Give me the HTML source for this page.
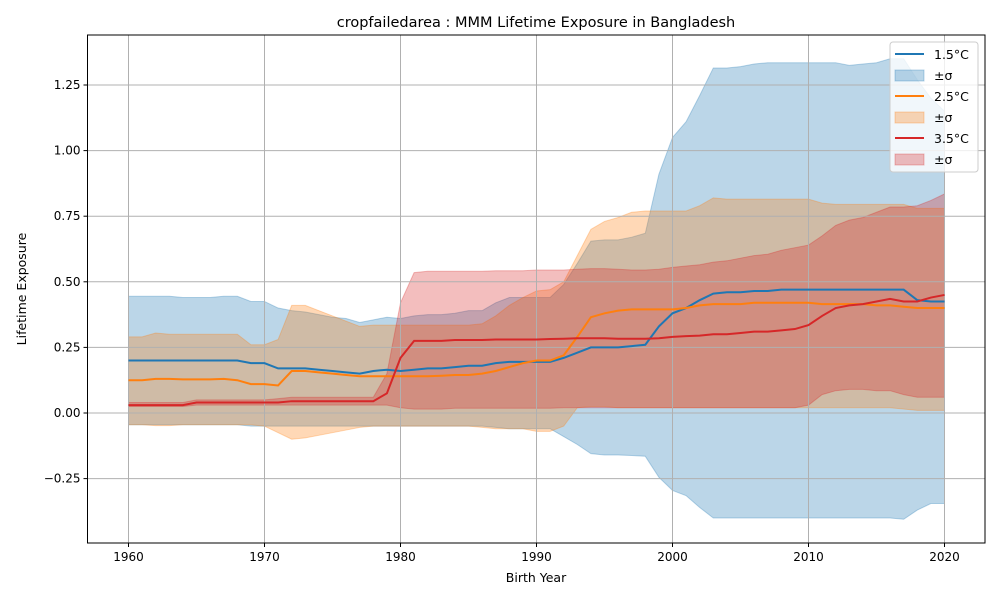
<!DOCTYPE html>
<html><head><meta charset="utf-8"><style>
body{margin:0;background:#fff;font-family:"Liberation Sans","DejaVu Sans",sans-serif}
svg text{font-family:"DejaVu Sans","Liberation Sans",sans-serif}
</style></head><body>
<svg id="c" width="1000" height="600" xmlns="http://www.w3.org/2000/svg"></svg>
<script>
const years=[];for(let y=1960;y<=2020;y++)years.push(y);
const m15=[0.20,0.20,0.20,0.20,0.20,0.20,0.20,0.20,0.20,0.19,0.19,0.17,0.17,0.17,0.165,0.16,0.155,0.15,0.16,0.165,0.16,0.165,0.17,0.17,0.175,0.18,0.18,0.19,0.195,0.195,0.195,0.195,0.21,0.23,0.25,0.25,0.25,0.255,0.26,0.33,0.38,0.40,0.43,0.455,0.46,0.46,0.465,0.465,0.47,0.47,0.47,0.47,0.47,0.47,0.47,0.47,0.47,0.47,0.43,0.425,0.425];
const u15=[0.445,0.445,0.445,0.445,0.44,0.44,0.44,0.445,0.445,0.425,0.425,0.40,0.39,0.385,0.375,0.365,0.36,0.345,0.355,0.365,0.36,0.37,0.375,0.375,0.38,0.39,0.39,0.42,0.44,0.44,0.44,0.44,0.49,0.57,0.655,0.66,0.66,0.67,0.685,0.91,1.05,1.11,1.21,1.315,1.315,1.32,1.33,1.335,1.335,1.335,1.335,1.335,1.335,1.325,1.33,1.335,1.35,1.35,1.27,1.2,1.15];
const l15=[-0.045,-0.045,-0.045,-0.045,-0.045,-0.045,-0.045,-0.045,-0.045,-0.05,-0.05,-0.05,-0.05,-0.05,-0.05,-0.05,-0.05,-0.05,-0.05,-0.05,-0.05,-0.05,-0.05,-0.05,-0.05,-0.05,-0.05,-0.055,-0.06,-0.06,-0.06,-0.06,-0.09,-0.12,-0.155,-0.16,-0.16,-0.162,-0.165,-0.245,-0.295,-0.315,-0.36,-0.4,-0.4,-0.4,-0.4,-0.4,-0.4,-0.4,-0.4,-0.4,-0.4,-0.4,-0.4,-0.4,-0.4,-0.405,-0.37,-0.345,-0.345];
const m25=[0.125,0.125,0.13,0.13,0.128,0.128,0.128,0.13,0.125,0.11,0.11,0.105,0.16,0.16,0.155,0.15,0.145,0.14,0.14,0.14,0.14,0.14,0.14,0.142,0.145,0.145,0.15,0.16,0.175,0.19,0.2,0.2,0.22,0.29,0.365,0.38,0.39,0.395,0.395,0.395,0.395,0.40,0.41,0.415,0.415,0.415,0.42,0.42,0.42,0.42,0.42,0.415,0.415,0.415,0.415,0.41,0.41,0.405,0.40,0.40,0.40];
const u25=[0.29,0.29,0.305,0.30,0.30,0.30,0.30,0.30,0.30,0.26,0.26,0.28,0.41,0.41,0.39,0.37,0.35,0.33,0.335,0.335,0.335,0.335,0.335,0.335,0.335,0.335,0.34,0.37,0.41,0.44,0.465,0.47,0.50,0.60,0.70,0.73,0.745,0.765,0.77,0.77,0.77,0.77,0.79,0.82,0.815,0.815,0.815,0.815,0.815,0.815,0.815,0.80,0.795,0.795,0.795,0.795,0.795,0.795,0.78,0.78,0.78];
const l25=[-0.045,-0.045,-0.048,-0.048,-0.045,-0.045,-0.045,-0.045,-0.045,-0.045,-0.05,-0.075,-0.10,-0.095,-0.085,-0.075,-0.065,-0.055,-0.05,-0.05,-0.05,-0.05,-0.05,-0.05,-0.05,-0.05,-0.055,-0.06,-0.06,-0.06,-0.07,-0.07,-0.05,0.02,0.025,0.025,0.02,0.02,0.02,0.02,0.02,0.02,0.02,0.02,0.02,0.02,0.02,0.02,0.02,0.02,0.02,0.02,0.02,0.02,0.02,0.02,0.02,0.015,0.01,0.01,0.01];
const m35=[0.03,0.03,0.03,0.03,0.03,0.04,0.04,0.04,0.04,0.04,0.04,0.04,0.045,0.045,0.045,0.045,0.045,0.045,0.045,0.075,0.21,0.275,0.275,0.275,0.278,0.278,0.278,0.28,0.28,0.28,0.28,0.282,0.283,0.285,0.285,0.285,0.283,0.283,0.283,0.285,0.29,0.293,0.295,0.30,0.30,0.305,0.31,0.31,0.315,0.32,0.335,0.37,0.40,0.41,0.415,0.425,0.435,0.425,0.425,0.44,0.45];
const u35=[0.04,0.04,0.04,0.04,0.04,0.05,0.05,0.05,0.05,0.05,0.05,0.055,0.06,0.06,0.06,0.06,0.06,0.06,0.06,0.15,0.42,0.535,0.54,0.54,0.54,0.54,0.54,0.542,0.542,0.542,0.545,0.545,0.545,0.548,0.55,0.55,0.548,0.545,0.545,0.548,0.555,0.56,0.565,0.575,0.58,0.59,0.60,0.605,0.62,0.63,0.64,0.675,0.715,0.735,0.745,0.765,0.785,0.785,0.79,0.81,0.835];
const l35=[0.025,0.025,0.025,0.025,0.025,0.03,0.03,0.03,0.03,0.03,0.03,0.03,0.03,0.03,0.03,0.03,0.03,0.03,0.03,0.03,0.02,0.015,0.015,0.015,0.018,0.018,0.018,0.018,0.018,0.018,0.018,0.018,0.02,0.02,0.02,0.02,0.02,0.02,0.02,0.02,0.02,0.02,0.02,0.02,0.02,0.02,0.02,0.02,0.02,0.02,0.03,0.07,0.085,0.09,0.09,0.085,0.085,0.07,0.06,0.06,0.06];
const xTicks=[1960,1970,1980,1990,2000,2010,2020];
const yTicks=[-0.25,0,0.25,0.5,0.75,1.0,1.25];
const yLabels=["−0.25","0.00","0.25","0.50","0.75","1.00","1.25"];
const L=87.5,R=985,T=35,B=543;
const X=v=>128.5+(v-1960)*13.6;
const Y=v=>413-v*262.4;
const NS="http://www.w3.org/2000/svg",svg=document.getElementById('c');
function mk(t,a,p){const e=document.createElementNS(NS,t);for(const k in a)e.setAttribute(k,a[k]);(p||svg).appendChild(e);return e;}
mk('rect',{x:0,y:0,width:1000,height:600,fill:'#fff'});
const series=[[m15,u15,l15,'#1f77b4','1.5'],[m25,u25,l25,'#ff7f0e','2.5'],[m35,u35,l35,'#d62728','3.5']];
series.forEach(s=>{
 let d='M'+years.map((y,i)=>X(y)+','+Y(s[1][i])).join('L');
 for(let i=years.length-1;i>=0;i--)d+='L'+X(years[i])+','+Y(s[2][i]);
 const b=mk('path',{d:d+'Z',fill:s[3],'fill-opacity':0.3,stroke:s[3],'stroke-opacity':0.3});
 
 
});
const grid=mk('g',{});


xTicks.forEach(t=>{mk('line',{x1:X(t),x2:X(t),y1:T,y2:B,stroke:'#b0b0b0','stroke-width':1},grid);});
yTicks.forEach(t=>{mk('line',{x1:L,x2:R,y1:Y(t),y2:Y(t),stroke:'#b0b0b0','stroke-width':1},grid);});
series.forEach(s=>{
 const l=mk('path',{d:'M'+years.map((y,i)=>X(y)+','+Y(s[0][i])).join('L'),fill:'none',stroke:s[3],'stroke-width':2});
 
 
});
mk('rect',{x:L,y:T,width:R-L,height:B-T,fill:'none',stroke:'#000','stroke-width':1});
xTicks.forEach(t=>{mk('line',{x1:X(t),x2:X(t),y1:B,y2:B+4,stroke:'#000'});const e=mk('text',{x:X(t),y:B+18,'text-anchor':'middle','font-size':12});e.textContent=t;});
yTicks.forEach((t,i)=>{mk('line',{x1:L-4,x2:L,y1:Y(t),y2:Y(t),stroke:'#000'});const e=mk('text',{x:L-7,y:Y(t)+4,'text-anchor':'end','font-size':12});e.textContent=yLabels[i];});
</script>
<svg width="1000" height="600" style="position:absolute;left:0;top:0" xmlns="http://www.w3.org/2000/svg">
<text x="536" y="27" text-anchor="middle" font-size="14.5" font-family="DejaVu Sans,sans-serif">cropfailedarea : MMM Lifetime Exposure in Bangladesh</text>
<text x="536" y="582" text-anchor="middle" font-size="12.5" font-family="DejaVu Sans,sans-serif">Birth Year</text>
<text transform="translate(26,289) rotate(-90)" text-anchor="middle" font-size="12.5" font-family="DejaVu Sans,sans-serif">Lifetime Exposure</text>
<g font-family="DejaVu Sans,sans-serif" font-size="12.5">
<rect x="890" y="42" width="88" height="130" rx="3" fill="#fff" fill-opacity="0.8" stroke="#ccc"/>
<line x1="895" x2="924" y1="54" y2="54" stroke="#1f77b4" stroke-width="2"/><text x="934" y="59">1.5°C</text>
<rect x="895" y="70" width="29" height="11" fill="#1f77b4" fill-opacity="0.3" stroke="#1f77b4" stroke-opacity="0.3"/><text x="934" y="80">±σ</text>
<line x1="895" x2="924" y1="96" y2="96" stroke="#ff7f0e" stroke-width="2"/><text x="934" y="101">2.5°C</text>
<rect x="895" y="112" width="29" height="11" fill="#ff7f0e" fill-opacity="0.3" stroke="#ff7f0e" stroke-opacity="0.3"/><text x="934" y="122">±σ</text>
<line x1="895" x2="924" y1="138" y2="138" stroke="#d62728" stroke-width="2"/><text x="934" y="143">3.5°C</text>
<rect x="895" y="154" width="29" height="11" fill="#d62728" fill-opacity="0.3" stroke="#d62728" stroke-opacity="0.3"/><text x="934" y="164">±σ</text>
</g>
</svg>
</body></html>
